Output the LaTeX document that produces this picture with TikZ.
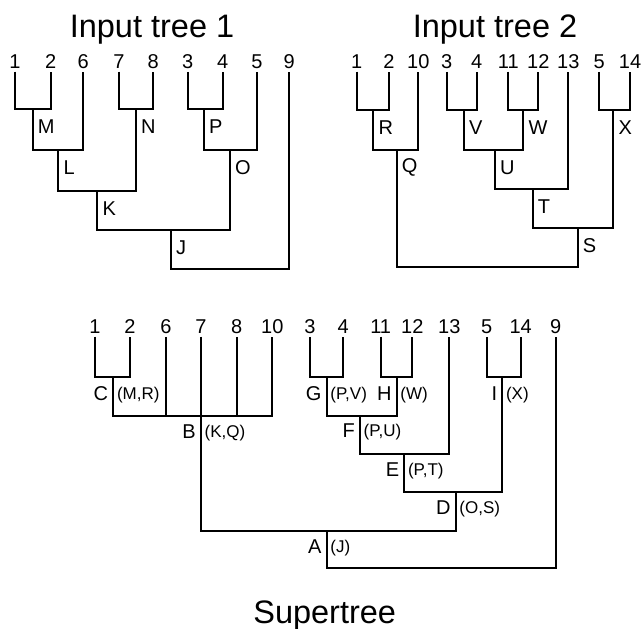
\documentclass[tikz,border=0pt]{standalone}
\usepackage{fontspec}
\setmainfont{Liberation Sans}
\usetikzlibrary{calc}

\begin{document}
\begin{tikzpicture}[x=1pt, y=-1pt,
  leaf/.style={anchor=base, inner xsep=0pt, inner ysep=3.5pt, font=\fontsize{20}{24}\selectfont},
  lab/.style={inner sep=1pt, text depth=0pt, font=\fontsize{20}{24}\selectfont},
  sub/.style={inner sep=1pt, text depth=0pt, font=\fontsize{17}{20}\selectfont},
  title/.style={anchor=base, inner sep=0pt, font=\fontsize{32.5}{38}\selectfont},
  br/.style={line width=1.8pt}]
  \useasboundingbox (0,0) rectangle (643,629);

  % Input tree 1
  \node[title] (title1) at (152,37) {Input tree 1};
  \node[leaf] (a1) at (15,68) {1};     \node[leaf] (a2) at (50.7,68) {2};
  \node[leaf] (a6) at (83.3,68) {6};   \node[leaf] (a7) at (119,68) {7};
  \node[leaf] (a8) at (153.3,68) {8};  \node[leaf] (a3) at (187.7,68) {3};
  \node[leaf] (a4) at (222.7,68) {4};  \node[leaf] (a5) at (257,68) {5};
  \node[leaf] (a9) at (289.3,68) {9};
  \coordinate (M) at (32.7,109);  \coordinate (L) at (58.3,150);
  \coordinate (N) at (136,109);   \coordinate (K) at (97.3,191);
  \coordinate (P) at (204,109);   \coordinate (O) at (230,150);
  \coordinate (J) at (171,230);   \coordinate (root1) at (171,269);
  \draw[br] (a1.south) |- (M) -| (a2.south);
  \draw[br] (M) |- (L) -| (a6.south);
  \draw[br] (a7.south) |- (N) -| (a8.south);
  \draw[br] (L) |- (K) -| (N);
  \draw[br] (a3.south) |- (P) -| (a4.south);
  \draw[br] (P) |- (O) -| (a5.south);
  \draw[br] (K) |- (J) -| (O);
  \draw[br] (J) |- (root1) -| (a9.south);
  \node[lab, anchor=west] (tM) at ($(M)+(4,17.5)$) {M};
  \node[lab, anchor=west] (tL) at ($(L)+(4,17.5)$) {L};
  \node[lab, anchor=west] (tN) at ($(N)+(4,17.5)$) {N};
  \node[lab, anchor=west] (tK) at ($(K)+(4,17.5)$) {K};
  \node[lab, anchor=west] (tP) at ($(P)+(4,17.5)$) {P};
  \node[lab, anchor=west] (tO) at ($(O)+(4,17.5)$) {O};
  \node[lab, anchor=west] (tJ) at ($(J)+(4,17.5)$) {J};

  % Input tree 2
  \node[title] (title2) at (495,37) {Input tree 2};
  \node[leaf] (b1) at (356.7,68) {1};   \node[leaf] (b2) at (389,68) {2};
  \node[leaf] (b10) at (418.3,68) {10}; \node[leaf] (b3) at (446.7,68) {3};
  \node[leaf] (b4) at (476.7,68) {4};   \node[leaf] (b11) at (508.3,68) {11};
  \node[leaf] (b12) at (538.3,68) {12}; \node[leaf] (b13) at (568.3,68) {13};
  \node[leaf] (b5) at (599.3,68) {5};   \node[leaf] (b14) at (630,68) {14};
  \coordinate (R) at (373.3,110);  \coordinate (Q) at (396.7,150);
  \coordinate (V) at (464,110);    \coordinate (W) at (523.3,110);
  \coordinate (U) at (495,150);    \coordinate (T) at (532.7,189);
  \coordinate (X) at (613.3,110);  \coordinate (S) at (577.7,228);
  \coordinate (root2) at (577.7,267);
  \draw[br] (b1.south) |- (R) -| (b2.south);
  \draw[br] (R) |- (Q) -| (b10.south);
  \draw[br] (b3.south) |- (V) -| (b4.south);
  \draw[br] (b11.south) |- (W) -| (b12.south);
  \draw[br] (V) |- (U) -| (W);
  \draw[br] (U) |- (T) -| (b13.south);
  \draw[br] (b5.south) |- (X) -| (b14.south);
  \draw[br] (T) |- (S) -| (X);
  \draw[br] (Q) |- (root2) -| (S);
  \node[lab, anchor=west] (tR) at ($(R)+(4,17.5)$) {R};
  \node[lab, anchor=west] (tQ) at ($(Q)+(4,16)$) {Q};
  \node[lab, anchor=west] (tV) at ($(V)+(4,17.5)$) {V};
  \node[lab, anchor=west] (tW) at ($(W)+(4,17.5)$) {W};
  \node[lab, anchor=west] (tU) at ($(U)+(4,17.5)$) {U};
  \node[lab, anchor=west] (tT) at ($(T)+(4,17.5)$) {T};
  \node[lab, anchor=west] (tX) at ($(X)+(4,17.5)$) {X};
  \node[lab, anchor=west] (tS) at ($(S)+(4,17.5)$) {S};

  % Supertree
  \node[leaf] (s1) at (95,333) {1};      \node[leaf] (s2) at (130,333) {2};
  \node[leaf] (s6) at (166,333) {6};     \node[leaf] (s7) at (201,333) {7};
  \node[leaf] (s8) at (236.7,333) {8};   \node[leaf] (s10) at (272.3,333) {10};
  \node[leaf] (s3) at (310,333) {3};     \node[leaf] (s4) at (343.3,333) {4};
  \node[leaf] (s11) at (380.7,333) {11}; \node[leaf] (s12) at (412.3,333) {12};
  \node[leaf] (s13) at (449.3,333) {13}; \node[leaf] (s5) at (486.7,333) {5};
  \node[leaf] (s14) at (520.7,333) {14}; \node[leaf] (s9) at (555.7,333) {9};
  \coordinate (C) at (113.3,377.3);  \coordinate (B) at (201,415.7);
  \coordinate (G) at (326.7,377.3);  \coordinate (H) at (396.7,377.3);
  \coordinate (F) at (360,415.7);    \coordinate (E) at (404.3,454.3);
  \coordinate (I) at (502.3,377.3);  \coordinate (D) at (455.7,491.7);
  \coordinate (A) at (326.7,530.7);  \coordinate (root3) at (326.7,568.3);
  \draw[br] (s1.south) |- (C) -| (s2.south);
  \draw[br] (C) |- (B) -| (s10.south);
  \draw[br] (s6.south) |- (B);
  \draw[br] (s7.south) |- (B);
  \draw[br] (s8.south) |- (B);
  \draw[br] (s3.south) |- (G) -| (s4.south);
  \draw[br] (s11.south) |- (H) -| (s12.south);
  \draw[br] (G) |- (F) -| (H);
  \draw[br] (F) |- (E) -| (s13.south);
  \draw[br] (s5.south) |- (I) -| (s14.south);
  \draw[br] (E) |- (D) -| (I);
  \draw[br] (B) |- (A) -| (D);
  \draw[br] (A) |- (root3) -| (s9.south);
  \node[lab, anchor=east] (tC) at ($(C)+(-4,16.5)$) {C};
  \node[sub, anchor=west] (pC) at ($(C)+(2.5,16.5)$) {(M,R)};
  \node[lab, anchor=east] (tB) at ($(B)+(-4,16)$) {B};
  \node[sub, anchor=west] (pB) at ($(B)+(2.5,16)$) {(K,Q)};
  \node[lab, anchor=east] (tG) at ($(G)+(-4,16.5)$) {G};
  \node[sub, anchor=west] (pG) at ($(G)+(2.5,16.5)$) {(P,V)};
  \node[lab, anchor=east] (tH) at ($(H)+(-4,16.5)$) {H};
  \node[sub, anchor=west] (pH) at ($(H)+(2.5,16.5)$) {(W)};
  \node[lab, anchor=east] (tF) at ($(F)+(-4,15)$) {F};
  \node[sub, anchor=west] (pF) at ($(F)+(2.5,15)$) {(P,U)};
  \node[lab, anchor=east] (tE) at ($(E)+(-4,15.5)$) {E};
  \node[sub, anchor=west] (pE) at ($(E)+(2.5,15.5)$) {(P,T)};
  \node[lab, anchor=east] (tI) at ($(I)+(-4,16.5)$) {I};
  \node[sub, anchor=west] (pI) at ($(I)+(2.5,16.5)$) {(X)};
  \node[lab, anchor=east] (tD) at ($(D)+(-4,15.5)$) {D};
  \node[sub, anchor=west] (pD) at ($(D)+(2.5,15.5)$) {(O,S)};
  \node[lab, anchor=east] (tA) at ($(A)+(-4,15.5)$) {A};
  \node[sub, anchor=west] (pA) at ($(A)+(2.5,15.5)$) {(J)};
  \node[title] (title3) at (324.7,623) {Supertree};
\end{tikzpicture}
\end{document}
